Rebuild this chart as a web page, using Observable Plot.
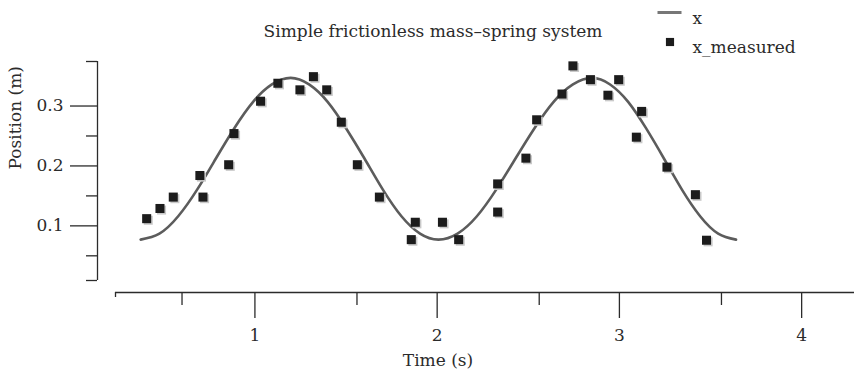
<!DOCTYPE html>
<html>
<head>
<meta charset="utf-8">
<script src="https://cdn.jsdelivr.net/npm/d3@7"></script>
<script src="https://cdn.jsdelivr.net/npm/@observablehq/plot@0.6"></script>
<style>
  html, body { margin: 0; padding: 0; background: #ffffff; }
</style>
</head>
<body>
<div id="chart"></div>
<script>
// ---- text ----
const title = "Simple frictionless mass–spring system";
const xLabel = "Time (s)";
const yLabel = "Position (m)";
const seriesNames = ["x", "x_measured"];

// ---- model curve "x" ----
const curveTime = [0.373, 0.476, 0.579, 0.682, 0.785, 0.887, 0.990, 1.093, 1.196,
  1.297, 1.399, 1.500, 1.602, 1.703, 1.804, 1.906, 2.007,
  2.112, 2.218, 2.323, 2.429, 2.534, 2.639, 2.745, 2.850,
  2.949, 3.048, 3.146, 3.245, 3.344, 3.443, 3.542, 3.640];
const curvePos = [0.077, 0.087, 0.116, 0.160, 0.212, 0.263, 0.307, 0.336, 0.347,
  0.336, 0.307, 0.263, 0.212, 0.160, 0.116, 0.087, 0.077,
  0.087, 0.116, 0.160, 0.212, 0.263, 0.307, 0.336, 0.347,
  0.336, 0.307, 0.263, 0.212, 0.160, 0.116, 0.087, 0.077];

// ---- measured points "x_measured" ----
const measTime = [0.406, 0.479, 0.552, 0.698, 0.715, 0.856, 0.885, 1.031, 1.126, 1.247, 1.321,
  1.394, 1.474, 1.562, 1.683, 1.858, 1.880, 2.029, 2.118, 2.332, 2.332, 2.487,
  2.546, 2.685, 2.745, 2.841, 2.937, 2.996, 3.093, 3.122, 3.261, 3.417, 3.478];
const measPos = [0.112, 0.129, 0.148, 0.184, 0.148, 0.202, 0.254, 0.308, 0.338, 0.327, 0.349,
  0.327, 0.273, 0.202, 0.148, 0.077, 0.106, 0.106, 0.077, 0.123, 0.170, 0.213,
  0.277, 0.320, 0.367, 0.344, 0.318, 0.344, 0.248, 0.291, 0.198, 0.152, 0.076];

// ---- axes ----
const xDomain = [0.235, 4.29];
const yDomain = [0.0088, 0.3743];
const xMajorTicks = [1, 2, 3, 4];
const xMinorTicks = [0.6, 1.56, 2.56, 3.56];
const yMajorTicks = [0.1, 0.2, 0.3];
const yMinorTicks = [0.05, 0.15, 0.25];

// ---- build tables ----
const curve = curveTime.map((t, i) => ({t, v: curvePos[i]}));
const meas = measTime.map((t, i) => ({t, v: measPos[i]}));

const ink = "#2b2b2b";
const lineColor = "#5c5c5c";
const pointColor = "#1c1c1c";
const fs = 17;

const legendLine = {
  draw(context, size) {
    context.moveTo(-12, 0);
    context.lineTo(12, 0);
  }
};

const chart = Plot.plot({
  width: 854,
  height: 378,
  marginLeft: 115,
  marginRight: 0,
  marginTop: 61,
  marginBottom: 98,
  style: {fontFamily: "DejaVu Serif", fontSize: fs + "px", color: ink, background: "#ffffff"},
  x: {domain: xDomain, label: null},
  y: {domain: yDomain, label: null},
  marks: [
    // axis lines (offset from the data area)
    Plot.ruleX([xDomain[0]], {dx: -18, stroke: ink, strokeWidth: 1.3}),
    Plot.ruleY([yDomain[0]], {dy: 12, stroke: ink, strokeWidth: 1.3}),
    // y axis
    Plot.axisY(yMajorTicks, {anchor: "left", dx: -18, tickSize: 27, tickPadding: 7,
      tickFormat: d => d.toFixed(1), label: null, stroke: ink, strokeWidth: 1.3, fill: ink}),
    Plot.axisY(yMinorTicks.concat(yDomain), {anchor: "left", dx: -18, tickSize: 11,
      tickFormat: () => "", label: null, stroke: ink, strokeWidth: 1.3}),
    // x axis
    Plot.axisX(xMajorTicks, {anchor: "bottom", dy: 12, tickSize: 26, tickPadding: 10,
      tickFormat: d => String(d), label: null, stroke: ink, strokeWidth: 1.3, fill: ink}),
    Plot.axisX(xMinorTicks, {anchor: "bottom", dy: 12, tickSize: 13,
      tickFormat: () => "", label: null, stroke: ink, strokeWidth: 1.3}),
    Plot.axisX([xDomain[0]], {anchor: "bottom", dy: 12, tickSize: 5,
      tickFormat: () => "", label: null, stroke: ink, strokeWidth: 1.3}),
    // axis labels and title
    Plot.text([xLabel], {frameAnchor: "bottom", dx: -47, dy: 85, fill: ink, fontSize: fs}),
    Plot.text([yLabel], {frameAnchor: "left", rotate: -90, dx: -100, dy: -1.5, fill: ink, fontSize: fs}),
    Plot.text([title], {frameAnchor: "top", dx: -52, dy: -37, fill: ink, fontSize: fs}),
    // model curve
    Plot.line(curve, {x: "t", y: "v", curve: "natural", stroke: lineColor, strokeWidth: 2.6}),
    // measured points with soft shadow
    Plot.dot(meas, {x: "t", y: "v", symbol: "square", r: 5.1, fill: "#c9c9c9", dx: 1.6, dy: 1.6}),
    Plot.dot(meas, {x: "t", y: "v", symbol: "square", r: 5.1, fill: pointColor}),
    // legend
    Plot.dot([seriesNames[0]], {frameAnchor: "top-right", dx: -185, dy: -49, symbol: legendLine,
      r: 5, fill: "none", stroke: "#777777", strokeWidth: 3}),
    Plot.text([seriesNames[0]], {frameAnchor: "top-right", dx: -162, dy: -50, textAnchor: "start",
      fill: ink, fontSize: fs}),
    Plot.dot([seriesNames[1]], {frameAnchor: "top-right", dx: -184.5, dy: -19.5, symbol: "square",
      r: 4.6, fill: pointColor}),
    Plot.text([seriesNames[1]], {frameAnchor: "top-right", dx: -162, dy: -21, textAnchor: "start",
      fill: ink, fontSize: fs})
  ]
});

document.getElementById("chart").appendChild(chart);
</script>
</body>
</html>
